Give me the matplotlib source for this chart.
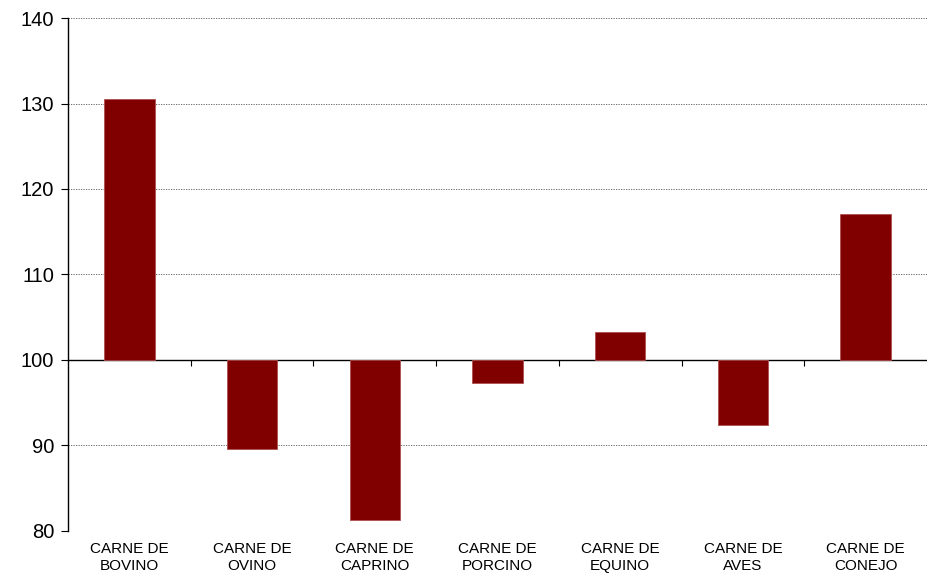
import matplotlib
matplotlib.use("Agg")
import matplotlib.pyplot as plt
import matplotlib.transforms as mtransforms

plt.rcParams['font.family'] = ['Liberation Sans', 'DejaVu Sans']

categories = ["CARNE DE\nBOVINO", "CARNE DE\nOVINO", "CARNE DE\nCAPRINO", "CARNE DE\nPORCINO",
              "CARNE DE\nEQUINO", "CARNE DE\nAVES", "CARNE DE\nCONEJO"]
values = [130.5, 89.6, 81.3, 97.3, 103.3, 92.4, 117.1]
base = 100
yticks = [80, 90, 100, 110, 120, 130, 140]

fig = plt.figure(figsize=(9.27, 5.73), dpi=100)
ax = fig.add_axes([68/927, 1-531/573, 1-68/927, (531-18)/573])

x = list(range(len(categories)))
heights = [v - base for v in values]
ax.bar(x, heights, bottom=base, width=0.41, color='#800000', edgecolor='#b05050', linewidth=0.6, zorder=3)

ax.set_xlim(-0.5, len(categories) - 0.5)
ax.set_ylim(80, 140)
ax.set_yticks(yticks)
ax.tick_params(axis='y', labelsize=14.5, length=5, width=0.8, direction='out', pad=5)
for y in yticks:
    if y != base:
        ax.axhline(y, color='#555555', linestyle=(0, (1.5, 1.5)), linewidth=0.6, zorder=1)

ax.spines['top'].set_visible(False)
ax.spines['right'].set_visible(False)
ax.spines['left'].set_linewidth(1.0)
ax.spines['bottom'].set_position(('data', base))
ax.spines['bottom'].set_linewidth(1.0)
ax.set_xticks([i + 0.5 for i in x[:-1]])
ax.set_xticklabels([])
ax.tick_params(axis='x', length=4, width=0.8, direction='out')

trans = mtransforms.blended_transform_factory(ax.transData, ax.transAxes)
offset = mtransforms.ScaledTranslation(0, -11/100, fig.dpi_scale_trans)
for xi, lab in zip(x, categories):
    ax.text(xi, 0, lab, transform=trans + offset, ha='center', va='top',
            fontsize=11, linespacing=1.3, multialignment='center')

fig.savefig("out.png", dpi=100)
